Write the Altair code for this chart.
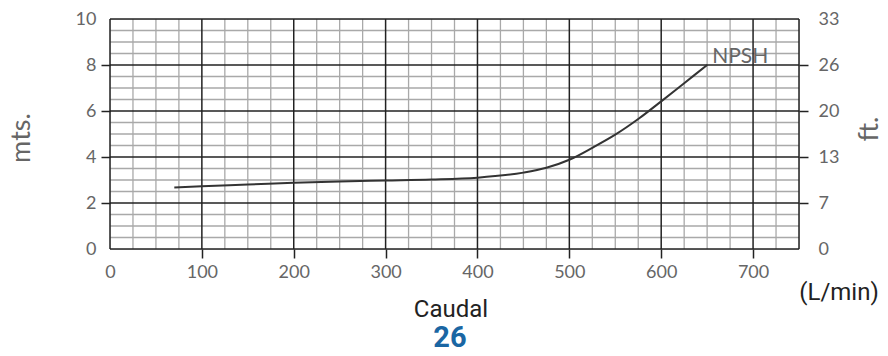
import altair as alt
import pandas as pd

# Data
flow = [70, 100, 150, 200, 250, 300, 350, 400, 450, 475, 500, 525, 550, 575, 600, 625, 650]
npsh = [2.67, 2.73, 2.80, 2.88, 2.94, 2.98, 3.02, 3.10, 3.32, 3.53, 3.88, 4.40, 4.97, 5.65, 6.42, 7.21, 8.00]

x_labels = [0, 100, 200, 300, 400, 500, 600, 700]
y_labels = [0, 2, 4, 6, 8, 10]
ft_labels = ["0", "7", "13", "20", "26", "33"]

x_major = [0, 100, 200, 300, 400, 500, 600, 700, 750]
x_minor = [v for v in range(0, 751, 25) if v not in x_major]
y_major = [0, 2, 4, 6, 8, 10]
y_minor = [v / 2 for v in range(0, 21) if (v / 2) not in y_major]

W, H = 689, 230
XD = [0, 750]
YD = [0, 10]

xs = alt.Scale(domain=XD, nice=False, zero=False)
ys = alt.Scale(domain=YD, nice=False, zero=False)

MINOR = "#a9a9a9"
MAJOR = "#222222"
LABEL = "#666666"

df = pd.DataFrame({"q": flow, "h": npsh})

vminor = alt.Chart(pd.DataFrame({"x": x_minor})).mark_rule(color=MINOR, strokeWidth=1.3).encode(
    x=alt.X("x:Q", scale=xs, axis=None))
hminor = alt.Chart(pd.DataFrame({"y": y_minor})).mark_rule(color=MINOR, strokeWidth=1.3).encode(
    y=alt.Y("y:Q", scale=ys, axis=None))
vmajor = alt.Chart(pd.DataFrame({"x": x_major})).mark_rule(color=MAJOR, strokeWidth=1.5).encode(
    x=alt.X("x:Q", scale=xs, axis=None))
hmajor = alt.Chart(pd.DataFrame({"y": y_major})).mark_rule(color=MAJOR, strokeWidth=1.5).encode(
    y=alt.Y("y:Q", scale=ys, axis=None))

hide_edge_x = {"condition": {"test": "datum.value == 0", "value": "transparent"}, "value": MAJOR}
hide_edge_y = {"condition": {"test": "datum.value == 0 || datum.value == 10", "value": "transparent"}, "value": MAJOR}

line = alt.Chart(df).mark_line(color="#333333", strokeWidth=2, interpolate="monotone").encode(
    x=alt.X("q:Q", scale=xs, axis=alt.Axis(
        values=x_labels, title=None, grid=False, domain=False, ticks=True, tickSize=9,
        tickColor=hide_edge_x, tickWidth=1.5, labelFont="Lato", labelFontSize=18,
        labelColor=LABEL, labelPadding=5, labelFlush=False)),
    y=alt.Y("h:Q", scale=ys, axis=alt.Axis(
        values=y_labels, title=None, grid=False, domain=False, ticks=True, tickSize=9,
        tickColor=hide_edge_y, tickWidth=1.5, labelFont="Lato", labelFontSize=18,
        labelColor=LABEL, labelPadding=5, orient="left", labelFlush=False)),
)

ft_expr = "[" + ",".join('"%s"' % s for s in ft_labels) + "][round(datum.value/2)]"
right = alt.Chart(df).mark_line(opacity=0).encode(
    y=alt.Y("h:Q", scale=ys, axis=alt.Axis(
        values=y_labels, title=None, grid=False, domain=False, ticks=True, tickSize=9,
        tickColor=hide_edge_y, tickWidth=1.5, labelFont="Lato", labelFontSize=18,
        labelColor=LABEL, labelPadding=10, orient="right", labelExpr=ft_expr, labelFlush=False)),
    x=alt.X("q:Q", scale=xs, axis=None),
)

npsh_lbl = alt.Chart(pd.DataFrame({"q": [flow[-1]], "h": [npsh[-1]], "t": ["NPSH"]})).mark_text(
    align="left", baseline="alphabetic", dx=5, dy=-2, font="Lato", fontSize=21, color=LABEL).encode(
    x=alt.X("q:Q", scale=xs, axis=None), y=alt.Y("h:Q", scale=ys, axis=None), text="t:N")

def label(txt, x, y, size, color, font="Roboto", weight="normal", angle=0, align="center"):
    return alt.Chart(pd.DataFrame({"t": [txt]})).mark_text(
        align=align, baseline="alphabetic", fontSize=size, color=color, font=font,
        fontWeight=weight, angle=angle).encode(
        x=alt.value(x), y=alt.value(y), text="t:N")

caudal = label("Caudal", 341, 298, 24, "#222222")
num = label("26", 340, 328, 29, "#1a66a3", weight="bold")
unit = label("(L/min)", 729, 281, 24, "#222222")
mts = label("mts.", -80, 119, 27, LABEL, font="Lato", angle=270)
ft = label("ft.", 768, 110, 27, LABEL, font="Lato", angle=270)

chart = alt.layer(vminor, hminor, vmajor, hmajor, line, right, npsh_lbl,
                  caudal, num, unit, mts, ft).resolve_axis(x="independent", y="independent").properties(
    width=W, height=H,
    autosize=alt.AutoSizeParams(type="none"),
    padding={"left": 102, "top": 11, "right": 81, "bottom": 99},
).configure_view(stroke=None).configure(background="white")

chart.save("out.html", embed_options={"renderer": "svg", "actions": False})
